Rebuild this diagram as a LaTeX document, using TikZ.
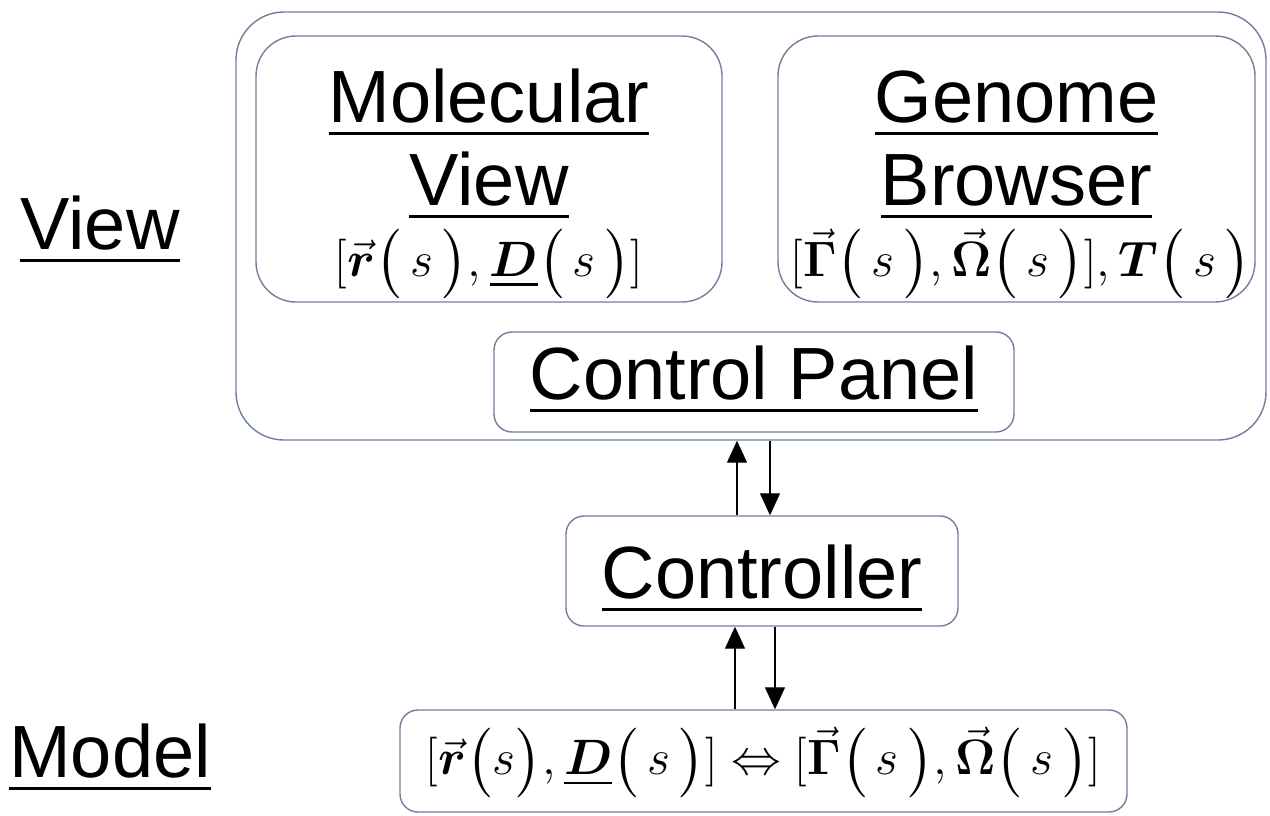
\documentclass[tikz,border=0pt]{standalone}
\usepackage{amsmath,amssymb}
\usepackage[no-math]{fontspec}
\setmainfont{Liberation Sans}
\usetikzlibrary{arrows.meta}

\definecolor{edge}{RGB}{110,128,155}
\tikzset{
  box/.style={draw=edge, line width=0.7pt, inner sep=0pt},
  txt/.style={anchor=base, inner sep=0pt, font=\fontsize{37}{41.5}\selectfont},
  frm/.style={inner sep=0pt, font=\fontsize{29}{33}\selectfont},
  flow/.style={line width=0.6pt, -{Triangle[length=11pt,width=10pt]}}
}

\begin{document}
\begin{tikzpicture}[x=0.5pt, y=-0.5pt]
  \useasboundingbox (0,0) rectangle (1270,815);

  % view layer
  \node[box, rounded corners=24pt, minimum width=515pt, minimum height=214pt] (view) at (751,226) {};
  \node[box, rounded corners=20pt, minimum width=233pt, minimum height=133pt] (mol) at (489,169) {};
  \node[box, rounded corners=20pt, minimum width=238.5pt, minimum height=133pt] (gen) at (1016.5,169) {};
  \node[box, rounded corners=9pt, minimum width=260pt, minimum height=50pt] (panel) at (754,382) {};

  \node[txt] (molTop) at (489,122) {\underline{Molecular}};
  \node[txt] (molBot) at (489,205) {\underline{View}};
  \node[frm] (molForm) at (489,264)
    {$[\vec{\boldsymbol{r}}\bigl(\,s\,\bigr),\underline{\boldsymbol{D}}\bigl(\,s\,\bigr)]$};

  \node[txt] (genTop) at (1016.5,122) {\underline{Genome}};
  \node[txt] (genBot) at (1016.5,205) {\underline{Browser}};
  \node[frm] (genForm) at (1021,264)
    {$[\vec{\mathbf{\Gamma}}\bigl(\,s\,\bigr),\vec{\mathbf{\Omega}}\bigl(\,s\,\bigr)],\boldsymbol{T}\bigl(\,s\,\bigr)$};

  \node[txt] (panelTxt) at (754,399) {\underline{Control Panel}};

  % controller and model
  \node[box, rounded corners=9pt, minimum width=196pt, minimum height=55pt] (ctrl) at (762,571) {};
  \node[txt] (ctrlTxt) at (762,598) {\underline{Controller}};

  \node[box, rounded corners=9pt, minimum width=363.5pt, minimum height=51pt] (model) at (763.5,761) {};
  \node[frm] (modelForm) at (763.5,762)
    {$[\vec{\boldsymbol{r}}\bigl(s\bigr),\underline{\boldsymbol{D}}\bigl(\,s\,\bigr)]\Leftrightarrow[\vec{\mathbf{\Gamma}}\bigl(\,s\,\bigr),\vec{\mathbf{\Omega}}\bigl(\,s\,\bigr)]$};

  \node[txt] (viewLbl) at (100,249) {\underline{View}};
  \node[txt] (modelLbl) at (110,777) {\underline{Model}};

  % arrows
  \coordinate (upA) at ([xshift=-12.5pt]ctrl.north);
  \coordinate (dnA) at ([xshift=4pt]ctrl.north);
  \draw[flow] (upA) -- (upA |- view.south);
  \draw[flow] (dnA |- view.south) -- (dnA);

  \coordinate (upB) at ([xshift=-13.5pt]ctrl.south);
  \coordinate (dnB) at ([xshift=6.5pt]ctrl.south);
  \draw[flow] (upB |- model.north) -- (upB);
  \draw[flow] (dnB) -- (dnB |- model.north);
\end{tikzpicture}
\end{document}
